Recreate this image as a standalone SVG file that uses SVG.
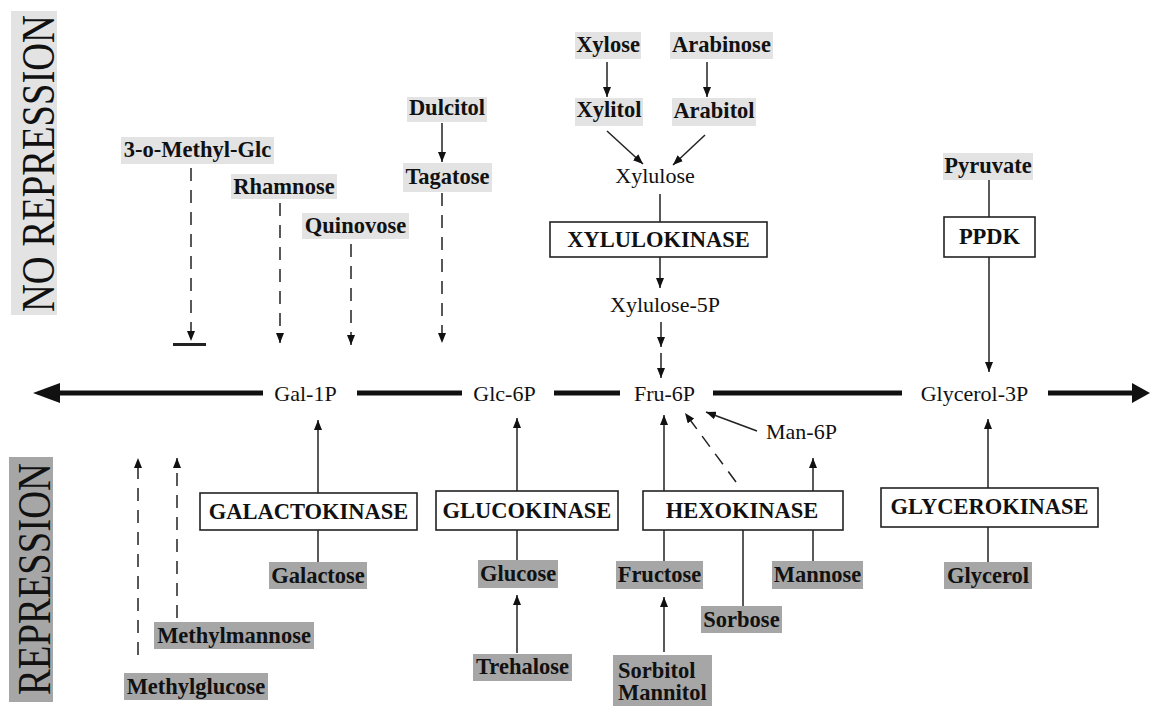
<svg xmlns="http://www.w3.org/2000/svg" width="1152" height="706" viewBox="0 0 1152 706">
<style>
text{font-family:"Liberation Serif","Times New Roman",serif;fill:#111}
.b{font-weight:bold;font-size:22.5px;text-anchor:middle}
.r{font-size:22px;text-anchor:middle}
.lt{fill:#e3e3e3}
.dk{fill:#a6a6a6}
.box{fill:#fff;stroke:#222;stroke-width:1.6}
.c line{stroke:#222;stroke-width:1.5;fill:none}
.c .d{stroke-dasharray:13 9}
.axis{stroke:#111;stroke-width:5}
</style>
<defs>
<marker id="ah" markerWidth="10" markerHeight="8" refX="10" refY="4" orient="auto" markerUnits="userSpaceOnUse"><path d="M0,0 L10,4 L0,8 z" fill="#111"/></marker>
</defs>
<rect width="1152" height="706" fill="#fff"/>

<g id="label-no-repression">
<rect x="11" y="11" width="46" height="304" class="lt"/>
<text transform="translate(54,163.5) rotate(-90)" text-anchor="middle" font-size="46" textLength="297" lengthAdjust="spacingAndGlyphs">NO REPRESSION</text>
</g>
<g id="label-repression">
<rect x="9" y="457" width="44" height="245" class="dk"/>
<text transform="translate(50,579) rotate(-90)" text-anchor="middle" font-size="46" textLength="232" lengthAdjust="spacingAndGlyphs">REPRESSION</text>
</g>

<g id="axis">
<polygon points="33,393 60,383 60,403" fill="#111"/>
<line class="axis" x1="58" y1="393" x2="263" y2="393"/>
<line class="axis" x1="357" y1="393" x2="462" y2="393"/>
<line class="axis" x1="554" y1="393" x2="620" y2="393"/>
<line class="axis" x1="713" y1="393" x2="902" y2="393"/>
<line class="axis" x1="1048" y1="393" x2="1134" y2="393"/>
<polygon points="1150,393 1132,383 1132,403" fill="#111"/>
</g>

<g id="connectors" class="c">
<line class="d" x1="191" y1="168" x2="191" y2="341" marker-end="url(#ah)"/>
<line x1="173" y1="344.5" x2="206" y2="344.5" style="stroke-width:3"/>
<line class="d" x1="280" y1="203" x2="280" y2="343" marker-end="url(#ah)"/>
<line class="d" x1="351" y1="244" x2="351" y2="345" marker-end="url(#ah)"/>
<line class="d" x1="442" y1="193" x2="442" y2="343" marker-end="url(#ah)"/>
<line x1="442" y1="123" x2="442" y2="162" marker-end="url(#ah)"/>
<line x1="607" y1="62" x2="607" y2="97" marker-end="url(#ah)"/>
<line x1="707" y1="62" x2="707" y2="97" marker-end="url(#ah)"/>
<line x1="607" y1="131" x2="643" y2="164" marker-end="url(#ah)"/>
<line x1="705" y1="135" x2="673" y2="165" marker-end="url(#ah)"/>
<line x1="660" y1="194" x2="660" y2="222"/>
<line x1="660" y1="257" x2="660" y2="288" marker-end="url(#ah)"/>
<line x1="661" y1="322" x2="661" y2="347" marker-end="url(#ah)"/>
<line x1="661" y1="353" x2="661" y2="378" marker-end="url(#ah)"/>
<line x1="989" y1="180" x2="989" y2="217"/>
<line x1="989" y1="257" x2="989" y2="372" marker-end="url(#ah)"/>
<line x1="318" y1="562" x2="318" y2="530"/>
<line x1="318" y1="493" x2="318" y2="420" marker-end="url(#ah)"/>
<line x1="517" y1="560" x2="517" y2="530"/>
<line x1="517" y1="491" x2="517" y2="418" marker-end="url(#ah)"/>
<line x1="517" y1="653" x2="517" y2="595" marker-end="url(#ah)"/>
<line x1="664" y1="561" x2="664" y2="530"/>
<line x1="664" y1="491" x2="664" y2="415" marker-end="url(#ah)"/>
<line x1="664" y1="652" x2="664" y2="597" marker-end="url(#ah)"/>
<line x1="743" y1="606" x2="743" y2="530"/>
<line class="d" x1="736" y1="482" x2="685" y2="413" marker-end="url(#ah)"/>
<line x1="813" y1="561" x2="813" y2="529"/>
<line x1="813" y1="491" x2="813" y2="458" marker-end="url(#ah)"/>
<line x1="757" y1="431" x2="706" y2="412" marker-end="url(#ah)"/>
<line x1="988" y1="562" x2="988" y2="527"/>
<line x1="988" y1="488" x2="988" y2="419" marker-end="url(#ah)"/>
<line class="d" x1="138" y1="655" x2="138" y2="458" marker-end="url(#ah)"/>
<line class="d" x1="177" y1="618" x2="177" y2="458" marker-end="url(#ah)"/>
</g>

<g id="n-3omg"><rect x="121" y="137" width="153" height="27" class="lt"/><text class="b" x="197.5" y="157">3-o-Methyl-Glc</text></g>
<g id="n-rhamnose"><rect x="231" y="174" width="106" height="25" class="lt"/><text class="b" x="284" y="194">Rhamnose</text></g>
<g id="n-quinovose"><rect x="302" y="213" width="107" height="26" class="lt"/><text class="b" x="355.5" y="233">Quinovose</text></g>
<g id="n-dulcitol"><rect x="407" y="97" width="80" height="25" class="lt"/><text class="b" x="447" y="115">Dulcitol</text></g>
<g id="n-tagatose"><rect x="403" y="163" width="89" height="29" class="lt"/><text class="b" x="447.5" y="184">Tagatose</text></g>
<g id="n-xylose"><rect x="575" y="32" width="66" height="27" class="lt"/><text class="b" x="608" y="52">Xylose</text></g>
<g id="n-arabinose"><rect x="670" y="32" width="103" height="27" class="lt"/><text class="b" x="721.5" y="52">Arabinose</text></g>
<g id="n-xylitol"><rect x="575" y="98" width="68" height="28" class="lt"/><text class="b" x="609" y="117">Xylitol</text></g>
<g id="n-arabitol"><rect x="672" y="98" width="84" height="28" class="lt"/><text class="b" x="714" y="118">Arabitol</text></g>
<g id="n-pyruvate"><rect x="943" y="153" width="90" height="27" class="lt"/><text class="b" x="988" y="173">Pyruvate</text></g>

<g id="n-xylulose"><text class="r" x="655" y="183">Xylulose</text></g>
<g id="n-xylulose5p"><text class="r" x="665" y="312">Xylulose-5P</text></g>
<g id="n-gal1p"><text class="r" x="305.5" y="401">Gal-1P</text></g>
<g id="n-glc6p"><text class="r" x="504.5" y="401">Glc-6P</text></g>
<g id="n-fru6p"><text class="r" x="664.5" y="401">Fru-6P</text></g>
<g id="n-glycerol3p"><text class="r" x="974.5" y="401">Glycerol-3P</text></g>
<g id="n-man6p"><text x="766" y="439" font-size="22">Man-6P</text></g>

<g id="e-xylulokinase"><rect x="550" y="222" width="217" height="35" class="box"/><text class="b" x="658.5" y="247">XYLULOKINASE</text></g>
<g id="e-ppdk"><rect x="944" y="217" width="91" height="40" class="box"/><text class="b" x="989.5" y="244">PPDK</text></g>
<g id="e-galactokinase"><rect x="200" y="493" width="217" height="37" class="box"/><text class="b" x="308.5" y="519">GALACTOKINASE</text></g>
<g id="e-glucokinase"><rect x="436" y="491" width="182" height="39" class="box"/><text class="b" x="527" y="518">GLUCOKINASE</text></g>
<g id="e-hexokinase"><rect x="643" y="491" width="200" height="39" class="box"/><text class="b" x="742" y="518">HEXOKINASE</text></g>
<g id="e-glycerokinase"><rect x="881" y="488" width="217" height="39" class="box"/><text class="b" x="989.5" y="514">GLYCEROKINASE</text></g>

<g id="n-galactose"><rect x="269" y="562" width="98" height="27" class="dk"/><text class="b" x="318" y="583">Galactose</text></g>
<g id="n-glucose"><rect x="478" y="560" width="80" height="28" class="dk"/><text class="b" x="518" y="581">Glucose</text></g>
<g id="n-fructose"><rect x="616" y="561" width="87" height="28" class="dk"/><text class="b" x="659.5" y="582">Fructose</text></g>
<g id="n-mannose"><rect x="772" y="561" width="91" height="28" class="dk"/><text class="b" x="817.5" y="582">Mannose</text></g>
<g id="n-glycerol"><rect x="944" y="562" width="88" height="27" class="dk"/><text class="b" x="988" y="583">Glycerol</text></g>
<g id="n-sorbose"><rect x="701" y="606" width="81" height="27" class="dk"/><text class="b" x="741.5" y="627">Sorbose</text></g>
<g id="n-trehalose"><rect x="473" y="654" width="99" height="27" class="dk"/><text class="b" x="522.5" y="674">Trehalose</text></g>
<g id="n-sorbitol-mannitol"><rect x="613" y="655" width="99" height="51" class="dk"/><text class="b" x="618" y="678" style="text-anchor:start">Sorbitol</text><text class="b" x="618" y="700" style="text-anchor:start">Mannitol</text></g>
<g id="n-methylmannose"><rect x="154" y="622" width="160" height="27" class="dk"/><text class="b" x="234" y="643">Methylmannose</text></g>
<g id="n-methylglucose"><rect x="124" y="673" width="144" height="27" class="dk"/><text class="b" x="196" y="694">Methylglucose</text></g>
</svg>
